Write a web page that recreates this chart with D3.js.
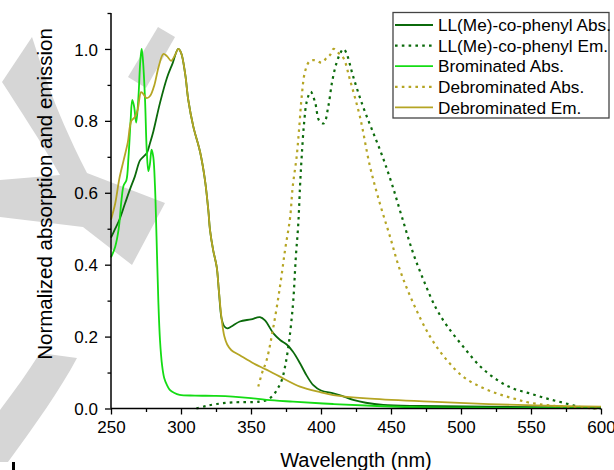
<!DOCTYPE html>
<html>
<head>
<meta charset="utf-8">
<script src="https://cdn.jsdelivr.net/npm/d3@7"></script>
<style>
  body { margin: 0; background: #fff; }
  text { font-family: "Liberation Sans", Arial, sans-serif; fill: #000; }
</style>
</head>
<body>
<div id="chart"></div>
<script>
// values
var llAbsX = [250,253,256,260,263.6,267,270.7,273,275.5,278,280.2,285,290,294,298,300,303,305.2,308.8,313.6,317.1,319.5,320.7,323,325.5,327,329,331,333,336,342,350,356.4,360,366,371,375.5,380,385,390,394.5,400,408.8,415,423,432,444.5,470,520,600];
var llAbsY = [0.475,0.50,0.525,0.57,0.61,0.645,0.69,0.70,0.71,0.74,0.77,0.85,0.92,0.96,1.0,0.99,0.93,0.858,0.784,0.714,0.636,0.552,0.497,0.44,0.394,0.33,0.25,0.228,0.223,0.228,0.242,0.248,0.254,0.245,0.209,0.19,0.178,0.158,0.126,0.09,0.065,0.05,0.042,0.035,0.024,0.016,0.010,0.007,0.005,0.003];

var llEmX = [311,318,325.5,337,356,362,366,369,372,374.5,376.7,378.5,380.2,382,383.8,385,386.2,387.9,389.8,392.6,395.7,398.8,402,405.2,408,411,414,416,418,423,430,437,444,451,458,466,474,482,490,502,514,526,537,549,561,573,587,600];
var llEmY = [0,0.007,0.0125,0.017,0.019,0.025,0.0375,0.055,0.079,0.12,0.172,0.23,0.30,0.42,0.515,0.617,0.70,0.793,0.853,0.881,0.853,0.80,0.793,0.84,0.91,0.96,0.99,1.0,0.99,0.923,0.84,0.77,0.70,0.62,0.53,0.43,0.35,0.28,0.23,0.17,0.116,0.079,0.056,0.042,0.028,0.016,0.003,0];

var brAbsX = [250,253,255.5,257.5,259,261,262.5,264,265.2,266.5,268,269.5,271,271.9,272.8,274.3,275.5,276.7,277.8,279,280.2,281.4,282.5,283.8,285,286.5,288,290,292,295,299,310,325,337,350,361,380,408.6,440,478,520,600];
var brAbsY = [0.42,0.45,0.50,0.58,0.62,0.635,0.70,0.80,0.858,0.84,0.795,0.86,0.97,1.0,0.97,0.86,0.72,0.66,0.68,0.72,0.70,0.62,0.48,0.30,0.19,0.12,0.085,0.065,0.052,0.044,0.038,0.036,0.035,0.033,0.029,0.024,0.019,0.0125,0.007,0.003,0.002,0.002];

var debAbsX = [355.2,358,361.2,366,370.7,374.3,377.9,379.8,382.6,384.5,386.2,388.6,391.7,395.7,400.5,404,406.4,409,412,416,420.7,427.9,435,442,449.3,456.4,465.9,477.9,489.8,501.7,513.6,525.5,537.4,549.3,573,600];
var debAbsY = [0.061,0.10,0.135,0.227,0.339,0.44,0.53,0.617,0.70,0.784,0.867,0.937,0.965,0.969,0.962,0.975,0.983,1.0,0.99,0.975,0.914,0.81,0.673,0.571,0.478,0.385,0.293,0.20,0.135,0.088,0.061,0.042,0.028,0.016,0.005,0];

var debEmX = [250,253,256,259,262,264.5,267,269,271.5,273,275.5,278,281,284,287.4,290,293,296,298,300,303,305.2,308.8,313.6,317.1,319.5,320.7,323,325.5,327,329,331,333,336,342,352,361,370,385,400,408.8,432.6,478,520,560,600];
var debEmY = [0.525,0.57,0.64,0.69,0.74,0.80,0.81,0.83,0.88,0.875,0.863,0.87,0.90,0.95,0.986,0.98,0.967,0.985,1.0,0.99,0.93,0.858,0.784,0.714,0.636,0.552,0.497,0.44,0.394,0.33,0.25,0.20,0.178,0.162,0.148,0.125,0.108,0.09,0.061,0.045,0.0375,0.028,0.019,0.012,0.008,0.005];

var seriesNames = ["LL(Me)-co-phenyl Abs.","LL(Me)-co-phenyl Em.","Brominated Abs.","Debrominated Abs.","Debrominated Em."];
var xTicks = [250,300,350,400,450,500,550,600];
var yTicks = [0.0,0.2,0.4,0.6,0.8,1.0];

var series = [
  {name: seriesNames[0], x: llAbsX, y: llAbsY, color: "#0b6a0b", dash: null},
  {name: seriesNames[1], x: llEmX, y: llEmY, color: "#0b6a0b", dash: "2.6,4.2"},
  {name: seriesNames[2], x: brAbsX, y: brAbsY, color: "#14dc14", dash: null},
  {name: seriesNames[3], x: debAbsX, y: debAbsY, color: "#b5a524", dash: "2.6,4.2"},
  {name: seriesNames[4], x: debEmX, y: debEmY, color: "#b5a524", dash: null}
];

var W = 614, H = 470;
var svg = d3.select("#chart").append("svg").attr("width", W).attr("height", H);

// grey watermark behind the plot
var mark = ["M2,82 L32,37 C40,60 50,100 87,173 L165,203 L132,265 L83,227 L0,217 L0,180 L60,175 C40,140 20,110 2,82 Z",
            "M40,353 L77,358 C60,390 35,425 8,462 L0,462 L0,410 C15,390 28,372 40,353 Z",
            "M128,77 L158,27 L175,37 L146,88 Z"];
svg.selectAll("path.wm").data(mark).enter().append("path")
  .attr("class", "wm").attr("d", d => d).style("fill", "#d6d6d6");
svg.append("rect").attr("x", 12).attr("y", 462).attr("width", 3).attr("height", 8).style("fill", "#000");

var x = d3.scaleLinear().domain([250, 600]).range([111, 601]);
var y = d3.scaleLinear().domain([0, 1.1]).range([408.5, 13]);

var line = d3.line().curve(d3.curveCatmullRom.alpha(0.5))
  .x(d => x(d[0])).y(d => y(d[1]));

series.forEach(s => {
  svg.append("path")
    .datum(s.x.map((v, i) => [v, s.y[i]]))
    .attr("d", line)
    .style("fill", "none")
    .style("stroke", s.color)
    .style("stroke-width", s.dash ? 2.2 : 1.8)
    .style("stroke-dasharray", s.dash);
});

// axes
var xAxis = svg.append("g").attr("transform", "translate(0,408.5)")
  .call(d3.axisBottom(x).tickValues(xTicks).tickSize(6).tickFormat(d3.format("d")));
svg.append("g").attr("transform", "translate(0,408.5)")
  .call(d3.axisBottom(x).tickValues(d3.range(275, 600, 50)).tickSize(3.5).tickFormat(""))
  .select(".domain").remove();
var yAxis = svg.append("g").attr("transform", "translate(111,0)")
  .call(d3.axisLeft(y).tickValues(yTicks).tickSize(6).tickFormat(d3.format(".1f")));
svg.append("g").attr("transform", "translate(111,0)")
  .call(d3.axisLeft(y).tickValues([0.1,0.3,0.5,0.7,0.9,1.1]).tickSize(3.5).tickFormat(""))
  .select(".domain").remove();

xAxis.select(".domain").remove();
yAxis.select(".domain").remove();
svg.append("line").attr("x1", 111).attr("x2", 601).attr("y1", 408.5).attr("y2", 408.5)
  .style("stroke", "#000").style("stroke-width", 1.5);
svg.append("line").attr("x1", 111).attr("x2", 111).attr("y1", 13).attr("y2", 408.5)
  .style("stroke", "#000").style("stroke-width", 1.5);
svg.selectAll(".tick line").style("stroke", "#000").style("stroke-width", 1.3);
xAxis.selectAll("text").style("font-size", "17px").attr("dy", null).attr("y", 24.5);
yAxis.selectAll("text").style("font-size", "17px").attr("x", -13).attr("dy", "0.36em");
svg.selectAll(".tick text").style("font-family", "'Liberation Sans', Arial, sans-serif").style("fill", "#000");

svg.append("text").attr("x", x(425)).attr("y", 467).attr("text-anchor", "middle")
  .style("font-size", "20px").text("Wavelength (nm)");
svg.append("text").attr("transform", "translate(52,194) rotate(-90)").attr("text-anchor", "middle")
  .style("font-size", "20.5px").text("Normalized absorption and emission");

// legend
var leg = svg.append("g");
leg.append("rect").attr("x", 393).attr("y", 12.5).attr("width", 216).attr("height", 105.5)
  .style("fill", "#fff").style("stroke", "#444").style("stroke-width", 1.3);
series.forEach((s, i) => {
  var ly = 25 + i * 20.6;
  leg.append("line").attr("x1", 395).attr("x2", 433).attr("y1", ly).attr("y2", ly)
    .style("stroke", s.color).style("stroke-width", s.dash ? 2.2 : 1.8)
    .style("stroke-dasharray", s.dash);
  leg.append("text").attr("x", 438).attr("y", ly).attr("dy", "0.36em")
    .style("font-size", "17.2px").text(s.name);
});
</script>
</body>
</html>
